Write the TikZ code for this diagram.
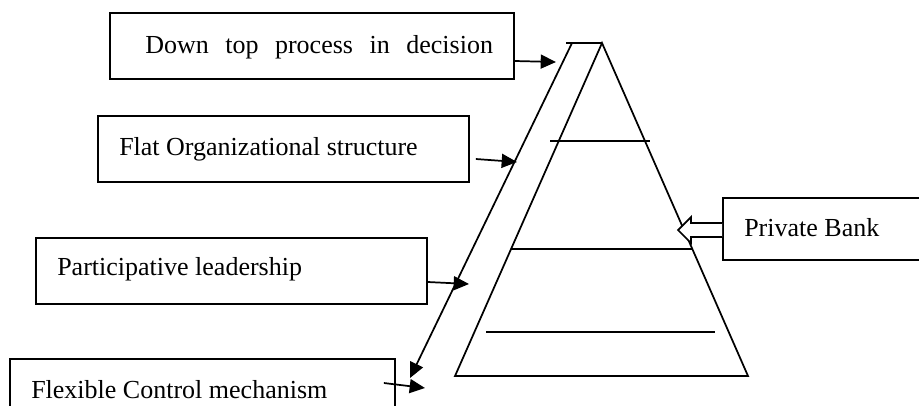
\documentclass[tikz,border=0pt]{standalone}
\usepackage{fontspec}
\setmainfont{Liberation Serif}
\usetikzlibrary{arrows.meta,calc}
\begin{document}
\begin{tikzpicture}[x=0.75pt,y=-0.75pt,
  box/.style={draw,line width=1.3pt,inner sep=0pt,minimum height=49.5pt},
  lbl/.style={anchor=base west,inner sep=0pt,font=\fontsize{19.5}{23}\selectfont},
  ln/.style={line width=1.3pt},
  arr/.style={line width=1.3pt,-{Triangle[length=11.5pt,width=10.5pt]}}]
\useasboundingbox (0,0) rectangle (919,405);
\clip (0,0) rectangle (919,405);
% boxes
\node[box,minimum width=303pt] (b1) at (312,46) {};
\node[box,minimum width=278.25pt] (b2) at (283.5,149) {};
\node[box,minimum width=293.25pt] (b3) at (231.5,271) {};
\node[box,minimum width=288.75pt] (b4) at (202.5,392) {};
\node[box,minimum width=300pt,minimum height=46.5pt] (b5) at (923,229) {};
% labels
\node[lbl] (t1) at (145,53) {Down\hspace{12.4pt}top\hspace{12.4pt}process\hspace{12.4pt}in\hspace{12.4pt}decision};
\node[lbl] (t2) at (119,155) {Flat Organizational structure};
\node[lbl] (t3) at (57,275) {Participative leadership};
\node[lbl] (t4) at (31,398) {Flexible Control mechanism};
\node[lbl] (t5) at (744,236) {Private Bank};
% pyramid
\coordinate (apex) at (602,43);
\coordinate (bl) at (455,376);
\coordinate (br) at (748,376);
\draw[ln] (bl) -- (apex) -- (br) -- cycle;
\draw[ln] (566,43) -- (apex);
\draw[ln] (550,141) -- (650,141);
\draw[ln] (511,249) -- (693,249);
\draw[ln] (486,332) -- (715,332);
% band arrow
\coordinate (bandtop) at (572,43);
\coordinate (bandend) at (410,378);
\draw[arr] (bandtop) -- (bandend);
% box arrows
\coordinate (a1) at (556,62);
\coordinate (a2) at (517,162);
\coordinate (a3) at (469,284);
\coordinate (a4) at (425,388);
\draw[arr] ($(b1.east)+(0,15)$) -- (a1);
\draw[arr] ($(b2.east)+(6,10)$) -- (a2);
\draw[arr] ($(b3.east)+(0,11)$) -- (a3);
\draw[arr] ($(b4.east)+(-12,-9)$) -- (a4);
% hollow arrow from Private Bank
\draw[ln,fill=white,line join=miter] ($(b5.west)+(0,-6)$) -- (691,223) -- (691,217) -- (678,230) -- (691,243) -- (691,237) -- ($(b5.west)+(0,8)$);
\end{tikzpicture}
\end{document}
